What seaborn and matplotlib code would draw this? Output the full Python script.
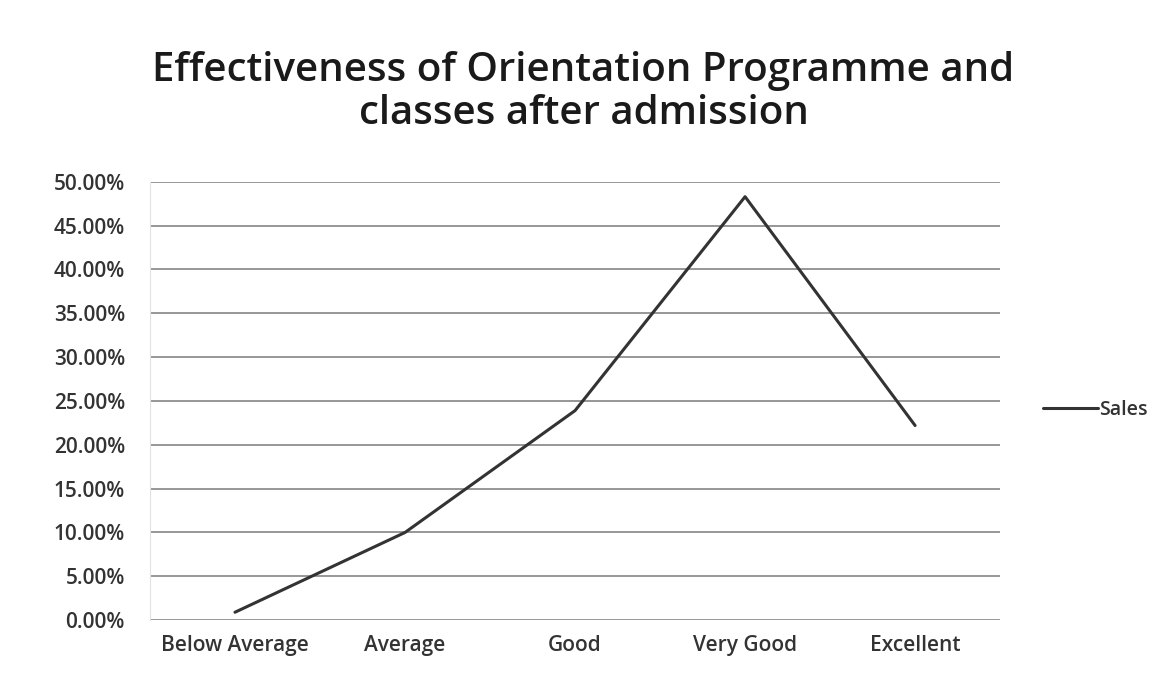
import numpy as np
import pandas as pd
import matplotlib
matplotlib.use("Agg")
import matplotlib.pyplot as plt
import seaborn as sns
from matplotlib.ticker import PercentFormatter

categories = ["Below Average", "Average", "Good", "Very Good", "Excellent"]
sales = [0.9, 10.0, 23.9, 48.3, 22.2]
yticks = [0, 5, 10, 15, 20, 25, 30, 35, 40, 45, 50]

df = pd.DataFrame({"category": categories, "Sales": sales})

sns.set_style("white")
plt.rcParams['font.family'] = ['Open Sans', 'DejaVu Sans']

fig = plt.figure(figsize=(11.67, 6.86), dpi=100)
ax = fig.add_axes([0.1285, 0.096, 0.7285, 0.639])

sns.lineplot(data=df, x="category", y="Sales", sort=False, color="#333333",
             linewidth=2.2, ax=ax, label="Sales")

ax.set_xlim(-0.5, 4.5)
ax.set_ylim(0, 50)
ax.set_yticks(yticks)
ax.yaxis.set_major_formatter(PercentFormatter(decimals=2))
ax.grid(axis="y", color="#8f8f8f", linewidth=1.3)
ax.set_axisbelow(True)
for s in ["top", "right", "bottom"]:
    ax.spines[s].set_visible(False)
ax.spines["left"].set_color("#e2e2e2")
ax.tick_params(axis="both", labelsize=15, colors="#333333", length=0)
for lbl in ax.get_xticklabels() + ax.get_yticklabels():
    lbl.set_fontweight("semibold")
ax.tick_params(axis="x", pad=11)
ax.tick_params(axis="y", pad=18)
ax.set_xlabel("")
ax.set_ylabel("")

leg = ax.legend(loc="center left", bbox_to_anchor=(1.03, 0.48), frameon=False,
                fontsize=14, handlelength=2.8, handletextpad=0.1)
for t in leg.get_texts():
    t.set_fontweight("semibold")
    t.set_color("#333333")

fig.text(0.5, 0.805, "Effectiveness of Orientation Programme and\nclasses after admission",
         ha="center", va="bottom", fontsize=29, fontweight="semibold",
         color="#1a1a1a", linespacing=1.1)

fig.savefig("out.png", dpi=100, facecolor="white")
